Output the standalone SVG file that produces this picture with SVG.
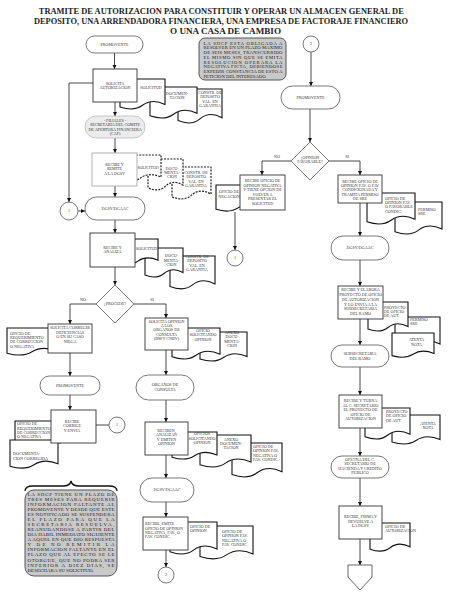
<svg xmlns="http://www.w3.org/2000/svg" width="450" height="600" viewBox="0 0 450 600">
<defs>
<marker id="ah" viewBox="0 0 6 6" refX="6" refY="3" markerWidth="4.5" markerHeight="4.5" orient="auto" markerUnits="userSpaceOnUse"><path d="M0,0 L6,3 L0,6 Z" fill="#111"/></marker>
<style>
text{font-family:"Liberation Serif","Times New Roman",serif;fill:#333;font-size:4.1px}
.t{text-anchor:middle}
.title{font-weight:bold;font-size:8.6px;fill:#222;text-anchor:middle}
.n1{font-size:5px;fill:#222}
.n2{font-size:4.7px;fill:#222}
.term{fill:#fff;stroke:#555;stroke-width:0.8}
.box{fill:#fff;stroke:#333;stroke-width:0.9}
.doc{fill:#fff;stroke:#111;stroke-width:1.1}
.ddoc{fill:#fff;stroke:#222;stroke-width:1.2;stroke-dasharray:2,1.2}
.note{fill:#c9c9c9;stroke:#555;stroke-width:1}
.cir{fill:#fff;stroke:#555;stroke-width:0.8}
.dia{fill:#fff;stroke:#555;stroke-width:0.8}
.c{fill:none;stroke:#333;stroke-width:0.9}
.a{marker-end:url(#ah)}
</style>
</defs>
<rect width="450" height="600" fill="#fff"/>
<g id="title">
<text class="title" x="221.3" y="13.5" textLength="365" lengthAdjust="spacingAndGlyphs">TRAMITE  DE  AUTORIZACION  PARA CONSTITUIR Y OPERAR UN ALMACEN GENERAL DE</text>
<text class="title" x="221" y="24" textLength="374" lengthAdjust="spacingAndGlyphs">DEPOSITO, UNA ARRENDADORA  FINANCIERA,  UNA EMPRESA  DE  FACTORAJE  FINANCIERO</text>
<text class="title" x="225.5" y="34" textLength="111" lengthAdjust="spacingAndGlyphs">O UNA CASA DE CAMBIO</text>
</g>
<g id="connectors">
<path class="c a" d="M114.5,53V69"/>
<path class="c a" d="M115,102V116"/>
<path class="c a" d="M115,138V153"/>
<path class="c a" d="M115,186V197"/>
<path class="c a" d="M93,83H69V202"/>
<path class="c a" d="M78,211H85"/>
<path class="c a" d="M115,220V233"/>
<path class="c a" d="M115,267V285"/>
<path class="c a" d="M96,304H70V324"/>
<path class="c a" d="M134,304H166V318"/>
<path class="c a" d="M70,353V376"/>
<path class="c a" d="M70,395V410"/>
<path class="c" d="M96,425H109"/>
<path class="c a" d="M166,350V375"/>
<path class="c a" d="M166,400V422"/>
<path class="c a" d="M166,455V478"/>
<path class="c a" d="M166,502V517"/>
<path class="c a" d="M166,550V567"/>
<path class="c a" d="M311,52V86"/>
<path class="c a" d="M310,109V142"/>
<path class="c a" d="M291,161H262V175"/>
<path class="c a" d="M329,161H360V175"/>
<path class="c a" d="M235,212V250"/>
<path class="c a" d="M360,203V236"/>
<path class="c a" d="M360,260V286"/>
<path class="c a" d="M360,319V345"/>
<path class="c a" d="M360,367V395"/>
<path class="c a" d="M360,428V456"/>
<path class="c a" d="M360,478V506"/>
<path class="c a" d="M360,539V565"/>
<text class="t" x="83" y="301">NO</text>
<text class="t" x="152" y="301">SI</text>
<text class="t" x="277" y="158">NO</text>
<text class="t" x="347" y="158">SI</text>
</g>
<g id="promovente1"><rect class="term" x="86" y="36" width="57" height="17" rx="8.5"/><text class="t" x="114.5" y="46">PROMOVENTE</text></g>
<g id="docs-solicita">
<path class="doc" d="M178,89h44v28.7c-8.8,-4.9 -16.7,-3.5 -22,1.1c-5.3,4.6 -13.2,5.3 -22,1.8z"/>
<path class="doc" d="M150,87h47v26.2c-9.4,-4.5 -17.9,-3.2 -23.5,1c-5.6,4.2 -14.1,4.8 -23.5,1.6z"/>
<path class="doc" d="M120,79h45v25.4c-9,-4.3 -17.1,-3.1 -22.5,0.9c-5.4,4 -13.5,4.7 -22.5,1.6z"/>
<text class="t" x="151" y="89">SOLICITUD</text>
<text class="t" x="177" y="94.5">DOCUMEN-</text><text class="t" x="177" y="99">TACION</text>
<text class="t" x="210" y="93.5">CONSTR. DE</text><text class="t" x="210" y="98">DEPOSITO</text><text class="t" x="210" y="102.5">VAL. EN</text><text class="t" x="210" y="107">GARANTIA</text>
</g>
<g id="solicita"><rect class="box" x="93" y="69" width="44" height="33"/><text class="t" x="115" y="84.6">SOLICITA</text><text class="t" x="115" y="89.2">AUTORIZACION</text></g>
<g id="filiales"><rect x="85" y="116" width="60" height="22" rx="11" fill="#ececec" stroke="#bbb" stroke-width="0.8"/>
<text class="t" x="115" y="121.6">- FILIALES -</text><text class="t" x="115" y="126.2">SECRETARIA DEL COMITE</text><text class="t" x="115" y="130.8">DE APERTURA FINANCIERA</text><text class="t" x="115" y="135.4">(CAF)</text></g>
<g id="docs-remite">
<path class="ddoc" d="M172,167h39v27.1c-7.8,-4.6 -14.8,-3.3 -19.5,1c-4.7,4.3 -11.7,5 -19.5,1.7z"/>
<path class="ddoc" d="M148,159h35v26.2c-7,-4.5 -13.3,-3.2 -17.5,1c-4.2,4.2 -10.5,4.8 -17.5,1.6z"/>
<path class="ddoc" d="M120,155h41v22.1c-8.2,-3.8 -15.6,-2.7 -20.5,0.8c-4.9,3.5 -12.3,4.1 -20.5,1.4z"/>
<text class="t" x="148" y="168.7">SOLICITUD</text>
<text class="t" x="172" y="169.7">DOCU-</text><text class="t" x="172" y="174">MENTA-</text><text class="t" x="172" y="178.4">CION</text>
<text class="t" x="196" y="174">CONSTR. DE</text><text class="t" x="196" y="178.4">DEPOSITO</text><text class="t" x="196" y="182.7">VAL. EN</text><text class="t" x="196" y="187">GARANTIA</text>
</g>
<g id="remite"><rect x="92" y="153" width="45" height="33" fill="#fff" stroke="#aaa" stroke-width="0.9"/><text class="t" x="114.5" y="165.6">RECIBE Y</text><text class="t" x="114.5" y="170.4">REMITE</text><text class="t" x="114.5" y="175.2">A LA DGSV</text></g>
<g id="conn1a"><circle class="cir" cx="69" cy="211" r="9"/><text class="t" x="69" y="212.4">1</text></g>
<g id="dgsv1"><rect class="term" x="85" y="197" width="60" height="23" rx="11.5"/><text class="t" x="115" y="209.9">DGSV/DGAAC</text></g>
<g id="docs-analiza">
<path class="doc" d="M170,256h45v27.9c-9,-4.8 -17.1,-3.4 -22.5,1c-5.4,4.4 -13.5,5.1 -22.5,1.7z"/>
<path class="doc" d="M145,248h38v24.6c-7.6,-4.2 -14.4,-3 -19,0.9c-4.6,3.9 -11.4,4.5 -19,1.5z"/>
<path class="doc" d="M118,239h40v21.3c-8,-3.6 -15.2,-2.6 -20,0.8c-4.8,3.4 -12,3.9 -20,1.3z"/>
<text class="t" x="146.5" y="249.7">SOLICITUD</text>
<text class="t" x="171.5" y="257.4">DOCU-</text><text class="t" x="171.5" y="261.7">MENTA-</text><text class="t" x="171.5" y="266">CION</text>
<text class="t" x="197" y="258">CONSTR. DE</text><text class="t" x="197" y="262.4">DEPOSITO</text><text class="t" x="197" y="266.7">VAL. EN</text><text class="t" x="197" y="271">GARANTIA</text>
</g>
<g id="analiza"><rect class="box" x="90" y="233" width="45" height="34"/><text class="t" x="112.5" y="248.6">RECIBE Y</text><text class="t" x="112.5" y="253.2">ANALIZA</text></g>
<g id="procede"><path class="dia" d="M115,285L134,304L115,323L96,304Z"/><text class="t" x="115" y="305.4">¿PROCEDE?</text></g>
<g id="doc-req1">
<path class="doc" d="M7,328h50v23c-10,-3.9 -19,-2.8 -25,0.8c-6,3.6 -15,4.2 -25,1.4z"/>
<text x="10" y="334.7">OFICIO DE</text><text x="10" y="339">REQUERIMIENTO</text><text x="10" y="343.3">DE CORRECCION</text><text x="10" y="347.6">O NEGATIVA</text>
</g>
<g id="corregir"><rect class="box" x="48" y="324" width="44" height="29"/><text class="t" x="70" y="329.2">SOLICITA CORREGIR</text><text class="t" x="70" y="333.8">DEFICIENCIAS</text><text class="t" x="70" y="338.4">O EN SU CASO</text><text class="t" x="70" y="343">NIEGA</text></g>
<g id="docs-opinion">
<path class="doc" d="M200,332h47v24.6c-9.4,-4.2 -17.9,-3 -23.5,0.9c-5.6,3.9 -14.1,4.5 -23.5,1.5z"/>
<path class="doc" d="M172,328h48v26.2c-9.6,-4.5 -18.2,-3.2 -24,1c-5.8,4.2 -14.4,4.8 -24,1.6z"/>
<text class="t" x="203" y="332">OFICIO</text><text class="t" x="203" y="336.4">SOLICITANDO</text><text class="t" x="203" y="340.7">OPINION</text>
<text class="t" x="232" y="334">ANEXO</text><text class="t" x="232" y="338.4">DOCU-</text><text class="t" x="232" y="342.7">MENTA-</text><text class="t" x="232" y="347">CION</text>
</g>
<g id="solicita-opinion"><rect class="box" x="145" y="318" width="43" height="32"/><text class="t" x="166.5" y="322.6">SOLICITA OPINION</text><text class="t" x="166.5" y="326.9">A LOS</text><text class="t" x="166.5" y="331.2">ORGANOS DE</text><text class="t" x="166.5" y="335.5">CONSULTA</text><text class="t" x="166.5" y="339.8">(BM Y CNBV)</text></g>
<g id="promovente2"><rect class="term" x="40" y="376" width="60" height="19" rx="9.5"/><text class="t" x="70" y="386.9">PROMOVENTE</text></g>
<g id="docs-corrige">
<path class="doc" d="M15,421h45v22.1c-9,-3.8 -17.1,-2.7 -22.5,0.8c-5.4,3.5 -13.5,4.1 -22.5,1.4z"/>
<text x="17" y="425.4">OFICIO DE</text><text x="17" y="429.7">REQUERIMIENTO</text><text x="17" y="434">DE CORRECCION</text><text x="17" y="438.4">O NEGATIVA</text>
<path class="doc" d="M10,440h48v23.8c-9.6,-4.1 -18.2,-2.9 -24,0.9c-5.8,3.8 -14.4,4.4 -24,1.5z"/>
<text x="13" y="454.7">DOCUMENTA-</text><text x="13" y="459.5">CION CORREGIDA</text>
</g>
<g id="corrige"><rect class="box" x="51" y="410" width="45" height="33"/><text class="t" x="72" y="423">RECIBE</text><text class="t" x="72" y="427.4">CORRIGE</text><text class="t" x="72" y="431.8">Y ENVIA</text></g>
<g id="conn1b"><circle class="cir" cx="117" cy="425" r="8"/><text class="t" x="117" y="426.4">1</text></g>
<g id="brace"><path d="M25,491Q25,486 33,486H63Q70,486 71,481Q72,486 79,486H109Q117,486 117,491" fill="none" stroke="#111" stroke-width="1.3"/></g>
<g id="note-left"><rect class="note" x="25" y="490" width="92" height="86" rx="9"/>
<text class="n1" x="27.5" y="495.6" textLength="87" lengthAdjust="spacing">LA SHCP TIENE UN PLAZO DE</text>
<text class="n1" x="27.5" y="500.7" textLength="87" lengthAdjust="spacing">TRES MESES PARA REQUERIR</text>
<text class="n1" x="27.5" y="505.7" textLength="87" lengthAdjust="spacing">INFORMACION FALTANTE AL</text>
<text class="n1" x="27.5" y="510.8" textLength="87" lengthAdjust="spacing">PROMOVENTE Y DESDE QUE ESTE</text>
<text class="n1" x="27.5" y="515.9" textLength="87" lengthAdjust="spacing">ES NOTIFICADO SE SUSPENDERA</text>
<text class="n1" x="27.5" y="520.9" textLength="87" lengthAdjust="spacing">EL PLAZO PARA QUE LA</text>
<text class="n1" x="27.5" y="526" textLength="87" lengthAdjust="spacing">SECRETARIA RESUELVA,</text>
<text class="n1" x="27.5" y="531.1" textLength="87" lengthAdjust="spacing">REANUDANDOSE A PARTIR DEL</text>
<text class="n1" x="27.5" y="536.2" textLength="87" lengthAdjust="spacing">DIA HABIL INMEDIATO SIGUIENTE</text>
<text class="n1" x="27.5" y="541.2" textLength="87" lengthAdjust="spacing">A AQUEL EN QUE DIO RESPUESTA</text>
<text class="n1" x="27.5" y="546.3" textLength="87" lengthAdjust="spacing">Y DE NO REMITIR LA</text>
<text class="n1" x="27.5" y="551.4" textLength="87" lengthAdjust="spacing">INFORMACION FALTANTE EN EL</text>
<text class="n1" x="27.5" y="556.4" textLength="87" lengthAdjust="spacing">PLAZO QUE AL EFECTO SE LE</text>
<text class="n1" x="27.5" y="561.5" textLength="87" lengthAdjust="spacing">OTORGUE, QUE NO PODRA SER</text>
<text class="n1" x="27.5" y="566.6" textLength="87" lengthAdjust="spacing">INFERIOR A DIEZ DIAS, SE</text>
<text class="n1" x="27.5" y="571.6">DESECHARA SU SOLICITUD.</text>
</g>
<g id="organos"><rect class="term" x="136" y="375" width="58" height="25" rx="12.5"/><text class="t" x="165" y="386.4">ORGANOS DE</text><text class="t" x="165" y="390.8">CONSULTA</text></g>
<g id="docs-reciben">
<path class="doc" d="M232,443h50v28.7c-10,-4.9 -19,-3.5 -25,1.1c-6,4.6 -15,5.3 -25,1.8z"/>
<path class="doc" d="M200,435h51v27.1c-10.2,-4.6 -19.4,-3.3 -25.5,1c-6.1,4.3 -15.3,5 -25.5,1.7z"/>
<path class="doc" d="M172,432h45v23c-9,-3.9 -17.1,-2.8 -22.5,0.8c-5.4,3.6 -13.5,4.2 -22.5,1.4z"/>
<text class="t" x="202" y="435.4">OFICIOS</text><text class="t" x="202" y="439.7">SOLICITANDO</text><text class="t" x="202" y="444">OPINION</text>
<text class="t" x="231" y="440.7">ANEXO</text><text class="t" x="231" y="445">DOCUMEN-</text><text class="t" x="231" y="449.4">TACION</text>
<text x="253" y="448">OFICIO DE</text><text x="253" y="452.4">OPINION FAV.</text><text x="253" y="456.7">NEGATIVA O</text><text x="253" y="461">FAV. CONDIC.</text>
</g>
<g id="reciben"><rect class="box" x="145" y="422" width="43" height="33"/><text class="t" x="166.5" y="432">RECIBEN,</text><text class="t" x="166.5" y="436.3">ANALIZAN</text><text class="t" x="166.5" y="440.6">Y EMITEN</text><text class="t" x="166.5" y="444.9">OPINION</text></g>
<g id="dgsv2"><rect class="term" x="140" y="478" width="54" height="24" rx="12"/><text class="t" x="167" y="491.4">DGSV/DGAAC</text></g>
<g id="docs-emite">
<path class="doc" d="M200,526h53v27.9c-10.6,-4.8 -20.1,-3.4 -26.5,1c-6.4,4.4 -15.9,5.1 -26.5,1.7z"/>
<path class="doc" d="M170,522h47v27.1c-9.4,-4.6 -17.9,-3.3 -23.5,1c-5.6,4.3 -14.1,5 -23.5,1.7z"/>
<text x="190" y="528">OFICIO DE</text><text x="190" y="532.4">OPINION</text>
<text x="222" y="533">OFICIO DE</text><text x="222" y="537.4">OPINION FAV.</text><text x="222" y="541.7">NEGATIVA O</text><text x="222" y="546">FAV. CONDIC.</text>
</g>
<g id="emite"><rect class="box" x="143" y="517" width="45" height="33"/>
<text x="145" y="525.3">RECIBE, EMITE</text><text x="145" y="529.5">OFICIO DE OPINION</text><text x="145" y="533.7">NEGATIVA, FAV., O</text><text x="145" y="538">FAV. CONDIC.</text></g>
<g id="conn2b"><circle class="cir" cx="166" cy="575" r="8"/><text class="t" x="166" y="576.4">2</text></g>
<g id="note-top"><rect class="note" x="199" y="38" width="87" height="42" rx="6"/>
<text class="n2" x="203.5" y="44.5" textLength="79" lengthAdjust="spacing">LA SHCP ESTA OBLIGADA A</text>
<text class="n2" x="203.5" y="49.3" textLength="79" lengthAdjust="spacing">RESOLVER EN UN PLAZO MAXIMO</text>
<text class="n2" x="203.5" y="54" textLength="79" lengthAdjust="spacing">DE SEIS MESES, TRANSCURRIDO</text>
<text class="n2" x="203.5" y="58.8" textLength="79" lengthAdjust="spacing">EL MISMO SIN QUE SE EMITA</text>
<text class="n2" x="203.5" y="63.6" textLength="79" lengthAdjust="spacing">RESOLUCION OPERARA LA</text>
<text class="n2" x="203.5" y="68.4" textLength="79" lengthAdjust="spacing">NEGATIVA FICTA, DEBIENDOSE</text>
<text class="n2" x="203.5" y="73.1" textLength="79" lengthAdjust="spacing">EXPEDIR CONSTANCIA DE ESTO A</text>
<text class="n2" x="203.5" y="77.9">PETICION DEL INTERESADO</text>
</g>
<g id="conn2a"><circle class="cir" cx="311" cy="44" r="8"/><text class="t" x="311" y="45.4">2</text></g>
<g id="promovente3"><rect class="term" x="281" y="86" width="59" height="23" rx="11.5"/><text class="t" x="310.5" y="98.9">PROMOVENTE</text></g>
<g id="favorable"><path class="dia" d="M310,142L329,161L310,180L291,161Z"/><text class="t" x="310" y="158.5">¿OPINION</text><text class="t" x="310" y="163.2">FAVORABLE?</text></g>
<g id="doc-negacion">
<path class="doc" d="M216,185h44v22.1c-8.8,-3.8 -16.7,-2.7 -22,0.8c-5.3,3.5 -13.2,4.1 -22,1.4z"/>
<text class="t" x="229" y="193">OFICIO DE</text><text class="t" x="229" y="197.5">NEGACION</text>
</g>
<g id="negativa"><rect class="box" x="240" y="175" width="45" height="35"/>
<text class="t" x="262.5" y="182">RECIBE OFICIO DE</text><text class="t" x="262.5" y="186.6">OPINION NEGATIVA</text><text class="t" x="262.5" y="191.2">Y TIENE OPCION DE</text><text class="t" x="262.5" y="195.8">VOLVER A</text><text class="t" x="262.5" y="200.4">PRESENTAR EL</text><text class="t" x="262.5" y="205">SOLICITUD</text></g>
<g id="conn1c"><circle class="cir" cx="235" cy="258" r="8"/><text class="t" x="235" y="259.4">1</text></g>
<g id="docs-fav">
<path class="doc" d="M395,202h47v27.1c-9.4,-4.6 -17.9,-3.3 -23.5,1c-5.6,4.3 -14.1,5 -23.5,1.7z"/>
<path class="doc" d="M367,193h48v26.2c-9.6,-4.5 -18.2,-3.2 -24,1c-5.8,4.2 -14.4,4.8 -24,1.6z"/>
<text x="385" y="199.7">OFICIO DE</text><text x="385" y="204">OPINION FAV.</text><text x="385" y="208.4">O FAVORABLE</text><text x="385" y="212.7">CONDIC.</text>
<text x="418" y="210.5">PERMISO</text><text x="418" y="215">SRE</text>
</g>
<g id="favorable-box"><rect class="box" x="338" y="175" width="44" height="28"/>
<text class="t" x="360" y="182.6">RECIBE OFICIO DE</text><text class="t" x="360" y="186.9">OPINION FAV. O FAV</text><text class="t" x="360" y="191.2">CONDICIONADA Y</text><text class="t" x="360" y="195.5">TRAMITA PERMISO</text><text class="t" x="360" y="199.8">DE SRE</text></g>
<g id="dgsv3"><rect class="term" x="331" y="236" width="58" height="24" rx="12"/><text class="t" x="360" y="249.4">DGSV/DGAAC</text></g>
<g id="docs-elabora">
<path class="doc" d="M395,317h45v27.1c-9,-4.6 -17.1,-3.3 -22.5,1c-5.4,4.3 -13.5,5 -22.5,1.7z"/>
<text x="410" y="320.7">PERMISO</text><text x="410" y="325.2">SRE</text>
<path class="doc" d="M392,333h42v20.5c-8.4,-3.5 -16,-2.5 -21,0.8c-5,3.3 -12.6,3.8 -21,1.3z"/>
<text class="t" x="416.5" y="341.4">ATENTA</text><text class="t" x="416.5" y="346.2">NOTA</text>
<path class="doc" d="M368,302h40v24.6c-8,-4.2 -15.2,-3 -20,0.9c-4.8,3.9 -12,4.5 -20,1.5z"/>
<text x="384" y="308.7">PROYECTO</text><text x="384" y="313">DE OFICIO</text><text x="384" y="317.4">DE AUT.</text>
</g>
<g id="elabora"><rect class="box" x="338" y="286" width="45" height="33"/>
<text class="t" x="360.5" y="290.8">RECIBE Y ELABORA</text><text class="t" x="360.5" y="295.7">PROYECTO DE OFICIO</text><text class="t" x="360.5" y="300.6">DE AUTORIZACION</text><text class="t" x="360.5" y="305.5">Y LO ENVIA A LA</text><text class="t" x="360.5" y="310.4">SUBSECRETARIA</text><text class="t" x="360.5" y="315.3">DEL RAMO</text></g>
<g id="subsecretaria"><rect class="term" x="331" y="345" width="58" height="22" rx="11"/><text class="t" x="360" y="355">SUBSECRETARIA</text><text class="t" x="360" y="359.8">DEL RAMO</text></g>
<g id="docs-turna">
<path class="doc" d="M392,415h48v24.6c-9.6,-4.2 -18.2,-3 -24,0.9c-5.8,3.9 -14.4,4.5 -24,1.5z"/>
<path class="doc" d="M365,408h45v26.2c-9,-4.5 -17.1,-3.2 -22.5,1c-5.4,4.2 -13.5,4.8 -22.5,1.6z"/>
<text x="386" y="413">PROYECTO</text><text x="386" y="417.4">DE OFICIO</text><text x="386" y="421.7">DE AUT.</text>
<text class="t" x="428" y="424.7">ATENTA</text><text class="t" x="428" y="429.2">NOTA</text>
</g>
<g id="turna"><rect class="box" x="339" y="395" width="43" height="33"/>
<text class="t" x="360.5" y="402">RECIBE Y TURNA</text><text class="t" x="360.5" y="406.5">AL C. SECRETARIO</text><text class="t" x="360.5" y="411">EL PROYECTO DE</text><text class="t" x="360.5" y="415.5">OFICIO DE</text><text class="t" x="360.5" y="420">AUTORIZACION</text></g>
<g id="oficina"><rect class="term" x="331" y="456" width="58" height="22" rx="11"/>
<text class="t" x="360" y="460.7">OFICINA DEL C.</text><text class="t" x="360" y="465.1">SECRETARIO DE</text><text class="t" x="360" y="469.5">HACIENDA Y CREDITO</text><text class="t" x="360" y="473.9">PUBLICO</text></g>
<g id="doc-autorizacion">
<path class="doc" d="M370,523h40v23.8c-8,-4.1 -15.2,-2.9 -20,0.9c-4.8,3.8 -12,4.4 -20,1.5z"/>
<text x="385" y="528">OFICIO DE</text><text x="385" y="532.4">AUTORIZACION</text>
</g>
<g id="firma"><rect class="box" x="339" y="506" width="43" height="33"/>
<text class="t" x="360.5" y="518">RECIBE, FIRMA Y</text><text class="t" x="360.5" y="522.5">DEVUELVE A</text><text class="t" x="360.5" y="527">LA DGSV</text></g>
<g id="offpage"><path d="M348,565H372V577L360,590L348,577Z" fill="#fff" stroke="#555" stroke-width="0.9"/></g>
</svg>
